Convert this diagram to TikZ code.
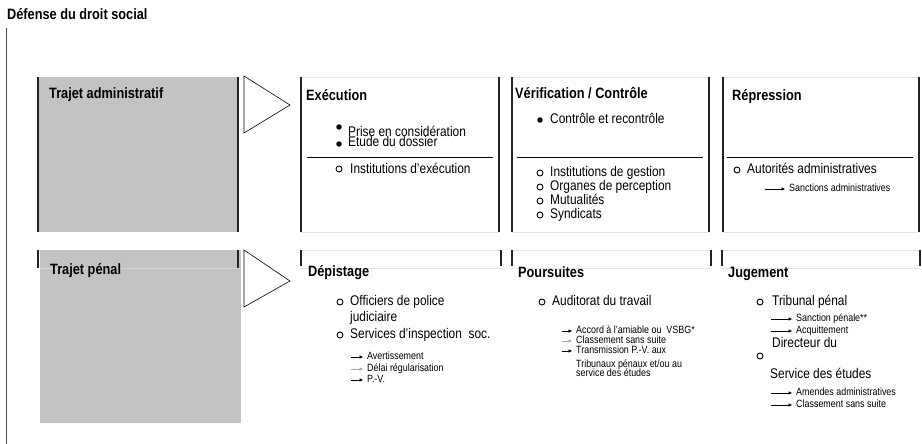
\documentclass[tikz,border=0pt]{standalone}
\usepackage{fontspec}
\setmainfont{Liberation Sans}[FakeStretch=0.85]
\usetikzlibrary{arrows.meta}
\definecolor{boxgray}{RGB}{195,195,195}
\definecolor{darkline}{RGB}{35,35,35}
\definecolor{faint}{RGB}{228,228,228}
\definecolor{faintin}{RGB}{212,212,212}
\definecolor{sideline}{RGB}{75,75,75}
\begin{document}
\begin{tikzpicture}[x=1pt,y=-1pt,
  titlefont/.style={font=\fontsize{15}{16}\selectfont\bfseries, anchor=west, inner sep=0pt, text height=11pt, text depth=3pt},
  hdr/.style={font=\fontsize{15}{16}\selectfont\bfseries, anchor=west, inner sep=0pt, text height=11pt, text depth=3pt},
  item/.style={font=\fontsize{14}{15}\selectfont, anchor=west, inner sep=0pt, text height=10pt, text depth=3pt},
  small/.style={font=\fontsize{10.5}{11}\selectfont, anchor=west, inner sep=0pt, text height=7.5pt, text depth=2pt},
  dot/.style={circle, fill=black, inner sep=0pt, minimum size=5.5pt},
  ring/.style={circle, draw=black, line width=0.9pt, inner sep=0pt, minimum size=6pt},
  sarr/.style={draw=black, line width=0.8pt, -{Triangle[length=3.5pt,width=3.2pt]}, shorten >=4pt},
  sarrg/.style={sarr, draw=gray!70, color=gray!70},
  darkbar/.style={draw=darkline, line width=2pt},
  faintline/.style={draw=faint, line width=0.8pt},
  rule/.style={draw=black, line width=0.8pt},
  chevron/.style={draw=black, line width=0.6pt}
]
\useasboundingbox (0,0) rectangle (922,444);

% side line
\draw[draw=sideline, line width=1.5pt] (6.5,28) -- (6.5,444);

% ---------- top row ----------
\fill[boxgray] (38,77) rectangle (238,232);
\draw[darkbar] (38,77) -- (38,232);
\draw[darkbar] (238,77) -- (238,232);
\draw[chevron] (244,76) -- (290,105) -- (244,133) -- cycle;

\foreach \a/\b in {301/499, 512/709, 723/919}{
  \draw[faintline] (\a,77) -- (\b,77);
  \draw[faintline] (\a,232) -- (\b,232);
  \draw[darkbar] (\a,77) -- (\a,232);
  \draw[darkbar] (\b,77) -- (\b,232);
}
\draw[rule] (307,157) -- (493,157);
\draw[rule] (517,157) -- (703,157);
\draw[rule] (727,157) -- (913,157);

% ---------- bottom row ----------
\fill[boxgray] (40,250) rectangle (241,423);
\draw[draw=faintin, line width=0.8pt] (40,268) -- (241,268);
\draw[darkbar] (38,250) -- (38,268);
\draw[darkbar] (238,250) -- (238,268);
\draw[chevron] (244,250) -- (290,281) -- (244,307) -- cycle;

\foreach \a/\b in {301/501, 512/711, 722/920}{
  \draw[faintline] (\a,250) -- (\b,250);
  \draw[faintline] (\a,268) -- (\b,268);
  \draw[darkbar] (\a,250) -- (\a,266);
  \draw[darkbar] (\b,250) -- (\b,266);
}

% ---------- texts ----------
\node[titlefont] (title) at (7,16) {Défense du droit social};

\node[hdr] (ta) at (49,95) {Trajet administratif};
\node[hdr] (h1) at (306,96) {Exécution};
\node[hdr] (h2) at (515,95) {Vérification / Contrôle};
\node[hdr] (h3) at (732,96) {Répression};

% Exécution
\node[dot] (b1) at (339,127) {};
\node[item] (e1) at (348,133) {Prise en considération};
\node[dot] (b2) at (339,144) {};
\node[item] (e2) at (348,143) {Etude du dossier};
\node[ring] (r1) at (339,169) {};
\node[item] (e3) at (350,170) {Institutions d'exécution};

% Vérification
\node[dot] (b3) at (540,120) {};
\node[item] (v1) at (550,120) {Contrôle et recontrôle};
\node[ring] (r2) at (540,173) {};
\node[item] (v2) at (550,173) {Institutions de gestion};
\node[ring] (r3) at (540,187) {};
\node[item] (v3) at (550,187) {Organes de perception};
\node[ring] (r4) at (540,201) {};
\node[item] (v4) at (550,201) {Mutualités};
\node[ring] (r5) at (540,215) {};
\node[item] (v5) at (550,215) {Syndicats};

% Répression
\node[ring] (r6) at (737,170) {};
\node[item] (p1) at (747,170) {Autorités administratives};
\coordinate (a0) at (765,189);
\node[small] (p2) at (789,189) {Sanctions administratives};
\draw[sarr] (a0) -- (p2.west);

% bottom headers
\node[hdr] (tp) at (50,270) {Trajet pénal};
\node[hdr] (h4) at (308,272) {Dépistage};
\node[hdr] (h5) at (518,273) {Poursuites};
\node[hdr] (h6) at (728,273) {Jugement};

% Dépistage
\node[ring] (r7) at (340,302) {};
\node[item] (d1) at (350,302) {Officiers de police};
\node[item] (d2) at (350,318) {judiciaire};
\node[ring] (r8) at (340,335) {};
\node[item] (d3) at (350,335) {Services d’inspection~ soc.};
\coordinate (a1) at (351,357);
\coordinate (a2) at (351,369);
\coordinate (a3) at (351,380);
\node[small] (d4) at (367,357) {Avertissement};
\node[small] (d5) at (367,369) {Délai régularisation};
\node[small] (d6) at (367,380) {P.-V.};
\draw[sarr] (a1) -- (d4.west);
\draw[sarrg] (a2) -- (d5.west);
\draw[sarr] (a3) -- (d6.west);

% Poursuites
\node[ring] (r9) at (542,302) {};
\node[item] (q1) at (552,302) {Auditorat du travail};
\coordinate (a4) at (562,331);
\coordinate (a5) at (562,341);
\coordinate (a6) at (562,351);
\node[small] (q2) at (576,331) {Accord à l’amiable ou~ VSBG*};
\node[small] (q3) at (576,341) {Classement sans suite};
\node[small] (q4) at (576,351) {Transmission P.-V. aux};
\node[small] (q5) at (576,365) {Tribunaux pénaux et/ou au};
\node[small] (q6) at (576,374) {service des études};
\draw[sarr] (a4) -- (q2.west);
\draw[sarrg] (a5) -- (q3.west);
\draw[sarr] (a6) -- (q4.west);

% Jugement
\node[ring] (r10) at (760,302) {};
\node[item] (j1) at (772,302) {Tribunal pénal};
\coordinate (a7) at (771,319);
\coordinate (a8) at (771,331);
\node[small] (j2) at (796,319) {Sanction pénale**};
\node[small] (j3) at (796,331) {Acquittement};
\draw[sarr] (a7) -- (j2.west);
\draw[sarr] (a8) -- (j3.west);
\node[item] (j4) at (772,344) {Directeur du};
\node[ring] (r11) at (760,356) {};
\node[item] (j5) at (770,375) {Service des études};
\coordinate (a9) at (771,393);
\coordinate (a10) at (771,405);
\node[small] (j6) at (796,393) {Amendes administratives};
\node[small] (j7) at (796,405) {Classement sans suite};
\draw[sarr] (a9) -- (j6.west);
\draw[sarr] (a10) -- (j7.west);
\end{tikzpicture}
\end{document}
